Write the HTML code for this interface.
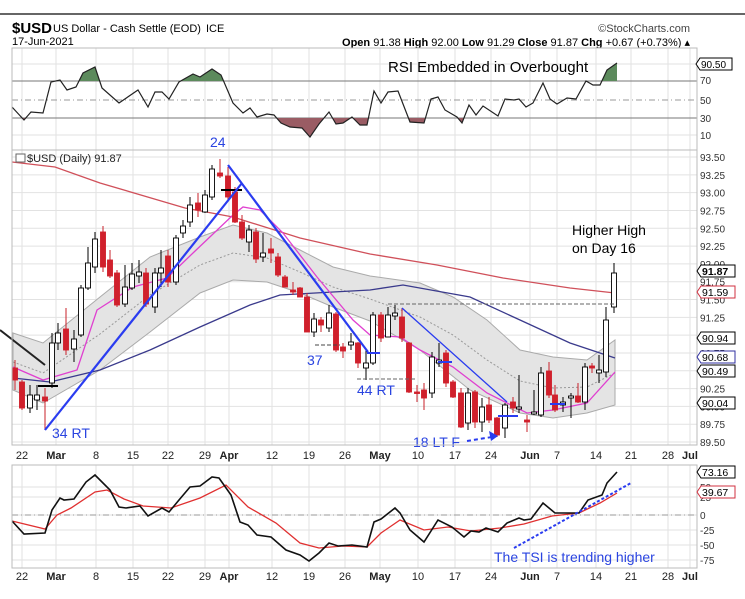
<!DOCTYPE html>
<html><head><meta charset="utf-8"><style>
body{margin:0;background:#fff;width:745px;height:599px;overflow:hidden;font-family:"Liberation Sans",sans-serif}
svg{display:block}
</style></head><body>
<svg id="s" width="745" height="599" xmlns="http://www.w3.org/2000/svg" font-family="Liberation Sans, sans-serif">
<rect width="745" height="599" fill="#fff"/>
<line x1="0" y1="14" x2="745" y2="14" stroke="#666" stroke-width="2"/>
<text x="12" y="33" font-size="15" font-weight="bold">$USD</text>
<text x="53" y="32" font-size="11">US Dollar - Cash Settle (EOD)</text>
<text x="206" y="32" font-size="11">ICE</text>
<text x="12" y="45" font-size="11">17-Jun-2021</text>
<text x="690" y="32" font-size="11" text-anchor="end" fill="#444">©StockCharts.com</text>
<text x="690" y="46" font-size="11" text-anchor="end"><tspan font-weight="bold">Open</tspan> 91.38 <tspan font-weight="bold">High</tspan> 92.00 <tspan font-weight="bold">Low</tspan> 91.29 <tspan font-weight="bold">Close</tspan> 91.87 <tspan font-weight="bold">Chg</tspan> +0.67 (+0.73%) ▴</text>
<g id="g"></g>
</svg>
<script>
const NS="http://www.w3.org/2000/svg",g=document.getElementById('g');
let h='';
const L=12,R=697;
const dx=[22,56,96,133,168,205,229,272,309,345,380,418,455,491,530,557,596,631,668,690];
const dl=['22','Mar','8','15','22','29','Apr','12','19','26','May','10','17','24','Jun','7','14','21','28','Jul'];
function vgrid(y1,y2){dx.forEach(x=>h+=`<line x1="${x}" y1="${y1}" x2="${x}" y2="${y2}" stroke="#e2e2e2"/>`);}
function pl(pts,st,w,extra=''){h+=`<polyline points="${pts.map(p=>p.join(',')).join(' ')}" fill="none" stroke="${st}" stroke-width="${w}" ${extra}/>`;}
// RSI panel
vgrid(48,150);
[[64,'90.50'],[81,'70'],[100,'50'],[118,'30'],[135,'10']].forEach(([y,t])=>{});
h+=`<line x1="${L}" y1="81" x2="${R}" y2="81" stroke="#777"/><line x1="${L}" y1="118" x2="${R}" y2="118" stroke="#777"/><line x1="${L}" y1="100" x2="${R}" y2="100" stroke="#999" stroke-dasharray="6,3,1,3"/><line x1="${L}" y1="135" x2="${R}" y2="135" stroke="#e2e2e2"/><line x1="${L}" y1="64" x2="${R}" y2="64" stroke="#e2e2e2"/>`;
const rsi=[[12,107],[24,120],[31,112],[43,113],[51,82],[60,80],[67,90],[76,87],[83,73],[95,67],[102,88],[119,103],[138,90],[148,107],[155,92],[162,92],[169,99],[179,82],[193,74],[200,77],[212,69],[221,75],[233,103],[243,113],[250,108],[257,117],[267,114],[274,115],[281,123],[290,127],[302,128],[310,137],[319,124],[329,112],[336,124],[343,123],[352,117],[360,125],[367,125],[374,91],[381,103],[388,92],[398,91],[410,122],[424,123],[431,99],[438,97],[445,110],[457,117],[462,123],[469,105],[476,115],[483,106],[498,116],[505,99],[514,100],[519,99],[526,107],[533,103],[543,83],[550,99],[557,104],[567,98],[576,99],[586,81],[593,85],[600,85],[607,70],[617,63]];
h+=`<defs><clipPath id="ca"><rect x="0" y="0" width="745" height="81"/></clipPath><clipPath id="cb"><rect x="0" y="118" width="745" height="40"/></clipPath></defs>`;
h+=`<polygon clip-path="url(#ca)" points="12,81 ${rsi.map(p=>p.join(',')).join(' ')} 617,81" fill="#5c8a5c"/>`;
h+=`<polygon clip-path="url(#cb)" points="12,118 ${rsi.map(p=>p.join(',')).join(' ')} 617,118" fill="#9a5c64"/>`;
pl(rsi,'#222',1.2);
h+=`<rect x="${L}" y="48" width="${R-L}" height="102" fill="none" stroke="#bbb"/>`;
h+=`<text x="388" y="72" font-size="15">RSI Embedded in Overbought</text>`;
[[84,'70'],[104,'50'],[122,'30'],[139,'10']].forEach(([y,t])=>h+=`<text x="700" y="${y}" font-size="10" fill="#333">${t}</text>`);
h+=`<path d="M696,64 l4,-6 h32 v12 h-32z" fill="#fff" stroke="#000"/><text x="701" y="68" font-size="10">90.50</text>`;
// main panel
vgrid(150,445);
const yp=p=>157+(93.5-p)*71.25;
for(let i=0;i<=16;i++){let p=93.5-i*0.25,y=yp(p);h+=`<line x1="${L}" y1="${y}" x2="${R}" y2="${y}" stroke="#e2e2e2"/><text x="700" y="${y+4}" font-size="10" fill="#333">${p.toFixed(2)}</text>`;}
const up=[[13,333],[43,343],[100,297],[150,257],[200,237],[233,225],[267,233],[300,250],[333,267],[370,276],[420,283],[453,297],[487,320],[520,350],[553,357],[587,360],[615,340]];
const lo=[[13,390],[43,403],[100,370],[150,332],[200,293],[233,280],[267,282],[300,293],[333,307],[370,321],[420,350],[470,390],[520,413],[553,418],[587,413],[615,405]];
h+=`<polygon points="${up.map(p=>p.join(',')).join(' ')} ${lo.slice().reverse().map(p=>p.join(',')).join(' ')}" fill="#e4e4e4" stroke="#aaa" stroke-width="1"/>`;
const mid=[[13,362],[43,373],[100,334],[150,295],[200,265],[233,253],[267,258],[300,272],[333,287],[370,299],[420,317],[453,335],[487,360],[520,381],[553,388],[587,387],[615,373]];
pl(mid,'#999',1,'stroke-dasharray="2,2"');
pl([[12,162],[55,167],[100,183],[185,208],[233,217],[300,238],[370,254],[437,265],[503,278],[570,288],[615,293]],'#d0505a',1.3);
pl([[13,378],[50,382],[100,370],[150,350],[200,327],[250,305],[280,295],[333,292],[370,290],[403,285],[470,297],[520,320],[570,343],[615,358]],'#3a3a8c',1.3);
pl([[13,367],[43,380],[77,370],[97,310],[133,287],[167,278],[193,253],[233,215],[243,207],[260,210],[283,233],[317,277],[353,320],[370,335],[400,337],[420,350],[453,367],[487,393],[527,413],[553,410],[587,403],[615,372]],'#e040d0',1.3);
const c=[[15,'r',368,380,360,390],[22,'r',382,408,380,410],[30,'w',395,408,385,413],[37,'w',395,400,385,410],[45,'r',397,401,388,430],[52,'w',343,383,333,388],[58,'w',333,343,323,350],[66,'r',329,350,308,355],[74,'w',339,349,330,362],[81,'w',288,335,285,337],[88,'w',263,288,247,290],[95,'w',239,267,232,273],[103,'r',232,267,226,272],[110,'r',260,276,250,278],[117,'r',273,305,270,307],[125,'w',287,304,265,307],[132,'w',274,288,263,290],[139,'w',272,276,260,283],[146,'r',273,304,268,307],[155,'w',273,307,268,313],[161,'w',268,273,250,287],[168,'r',256,282,250,287],[176,'w',238,282,235,285],[183,'w',226,233,220,238],[190,'w',205,222,197,227],[198,'r',203,210,193,217],[205,'w',195,212,190,213],[212,'w',169,197,165,200],[220,'r',173,176,159,178],[228,'r',176,197,167,200],[235,'r',192,222,187,223],[242,'r',222,238,215,240],[249,'w',230,242,225,252],[256,'r',232,259,228,263],[263,'w',253,257,233,262],[271,'r',249,253,238,263],[278,'r',257,275,253,277],[285,'r',277,287,275,287],[293,'r',290,292,282,295],[300,'r',288,297,287,297],[307,'r',297,332,293,332],[314,'w',319,332,313,337],[321,'r',320,325,317,332],[329,'w',313,328,305,332],[336,'r',314,350,312,352],[343,'r',347,351,343,358],[351,'w',342,345,333,350],[358,'r',343,363,342,368],[366,'w',363,368,350,380],[373,'w',315,363,312,365],[381,'r',315,338,312,342],[388,'w',315,337,307,337],[395,'w',313,316,305,320],[402,'r',317,338,308,342],[409,'r',343,392,342,393],[417,'r',392,393,385,402],[424,'r',390,398,383,410],[432,'w',357,393,352,398],[439,'w',360,363,343,367],[446,'r',353,383,350,387],[453,'r',382,397,380,398],[461,'r',393,427,388,428],[468,'w',393,423,388,430],[475,'r',392,422,390,428],[482,'w',407,422,398,432],[489,'r',405,420,397,423],[497,'r',418,435,417,437],[505,'w',405,428,403,438],[513,'r',402,408,397,413],[519,'w',407,409,375,413],[527,'r',420,422,415,432],[534,'w',412,414,390,415],[541,'w',373,415,367,417],[549,'r',371,395,362,398],[555,'r',395,410,385,412],[563,'w',402,405,397,412],[571,'w',396,398,393,418],[578,'r',396,402,383,403],[585,'w',367,402,363,410],[592,'r',366,368,363,373],[599,'w',370,373,355,383],[606,'w',320,372,307,377],[614,'w',273,307,263,313]];
c.forEach(([x,t,a,b,hi,lw])=>{const col=t=='r'?'#c8202a':'#000';h+=`<line x1="${x}" y1="${hi}" x2="${x}" y2="${lw}" stroke="${t=='r'?'#c8202a':'#000'}"/>`;h+=`<rect x="${x-2.5}" y="${a}" width="5" height="${Math.max(b-a,1.5)}" fill="${t=='r'?'#d0202c':'#fff'}" stroke="${t=='r'?'#d0202c':'#000'}" stroke-width="0.9"/>`;});
h+=`<line x1="388" y1="304" x2="614" y2="304" stroke="#666" stroke-dasharray="4,2"/><line x1="357" y1="379" x2="415" y2="379" stroke="#666" stroke-dasharray="4,2"/><line x1="315" y1="345" x2="340" y2="345" stroke="#444" stroke-dasharray="4,2"/>`;
h+=`<line x1="38" y1="386" x2="58" y2="386" stroke="#000" stroke-width="2"/><line x1="221" y1="190" x2="242" y2="190" stroke="#000" stroke-width="2"/>`;
h+=`<line x1="0" y1="330" x2="45" y2="365" stroke="#222" stroke-width="2"/>`;
h+=`<line x1="45" y1="430" x2="242" y2="183" stroke="#2a3cf0" stroke-width="2.2"/><line x1="228" y1="165" x2="368" y2="352" stroke="#2a3cf0" stroke-width="2.2"/><line x1="402" y1="308" x2="507" y2="402" stroke="#2a3cf0" stroke-width="1.3"/>`;
[[366,353,380],[368,352,382],[440,362,444],[512,405,520],[545,404,560],[498,417,515],[500,417,520]].forEach(([a,y,b])=>{});
h+=`<line x1="367" y1="353" x2="380" y2="353" stroke="#2a3cf0" stroke-width="2"/><line x1="438" y1="362" x2="452" y2="362" stroke="#2a3cf0" stroke-width="2"/><line x1="498" y1="416" x2="518" y2="416" stroke="#2a3cf0" stroke-width="2"/><line x1="550" y1="404" x2="565" y2="404" stroke="#2a3cf0" stroke-width="2"/>`;
h+=`<line x1="467" y1="441" x2="492" y2="437" stroke="#2a3cf0" stroke-width="2" stroke-dasharray="4,3"/><path d="M498,436 l-9,-5 l2,10z" fill="#2a3cf0"/>`;
const bt=(x,y,t,s=14)=>h+=`<text x="${x}" y="${y}" font-size="${s}" fill="#2a44e0">${t}</text>`;
bt(210,147,'24');bt(52,438,'34 RT');bt(307,365,'37');bt(357,395,'44 RT');bt(413,447,'18 LT F');
h+=`<text x="572" y="235" font-size="14">Higher High</text><text x="572" y="253" font-size="14">on Day 16</text>`;
h+=`<rect x="${L}" y="150" width="${R-L}" height="295" fill="none" stroke="#bbb"/>`;
h+=`<rect x="16" y="154" width="9" height="8" fill="#fff" stroke="#666"/><text x="27" y="162" font-size="11" fill="#222">$USD (Daily) 91.87</text>`;
const tag=(y,t,col,bold)=>h+=`<path d="M697,${y} l4,-6 h34 v12 h-34z" fill="#fff" stroke="${col}"/><text x="702" y="${y+4}" font-size="10.5" ${bold?'font-weight="bold"':''}>${t}</text>`;
tag(271,'91.87','#000',1);tag(292,'91.59','#d03040');tag(338,'90.94','#000');tag(357,'90.68','#3030a0');tag(371,'90.49','#000');tag(403,'90.04','#000');
// date labels
const dates=y=>dx.forEach((x,i)=>{const b=isNaN(dl[i]);h+=`<text x="${x}" y="${y}" font-size="11" text-anchor="middle" ${b?'font-weight="bold"':''} fill="#222">${dl[i]}</text>`;});
dates(459);
// TSI panel
vgrid(465,568);
[[472,''],[487,'50'],[497,'25'],[515,'0'],[530,'-25'],[545,'-50'],[560,'-75']].forEach(([y,t])=>{if(t){h+=`<line x1="${L}" y1="${y}" x2="${R}" y2="${y}" stroke="#e2e2e2"/><text x="700" y="${y+4}" font-size="10" fill="#333">${t}</text>`;}});
h+=`<line x1="${L}" y1="515" x2="${R}" y2="515" stroke="#999" stroke-dasharray="6,3,1,3"/>`;
pl([[12,521],[45,529],[57,515],[71,508],[95,492],[107,490],[124,499],[143,506],[171,508],[200,498],[226,485],[248,507],[276,523],[300,543],[319,548],[343,546],[367,547],[381,533],[400,520],[424,530],[448,527],[471,531],[500,528],[524,524],[552,516],[579,513],[600,503],[617,493]],'#e03030',1.3);
pl([[12,521],[24,534],[45,533],[52,510],[60,498],[64,500],[74,499],[86,482],[95,475],[110,490],[119,507],[126,508],[140,506],[148,516],[162,508],[169,512],[179,500],[190,487],[200,486],[212,477],[219,478],[231,495],[240,522],[248,525],[257,535],[271,537],[286,550],[300,555],[309,561],[319,553],[329,543],[338,546],[352,545],[367,547],[374,522],[381,519],[395,508],[400,513],[410,530],[424,542],[438,520],[452,527],[464,537],[471,531],[479,532],[486,528],[498,532],[507,523],[519,518],[524,520],[531,519],[543,503],[555,513],[569,513],[579,513],[588,500],[602,495],[607,483],[617,472]],'#111',1.6);
h+=`<line x1="514" y1="548" x2="631" y2="483" stroke="#2a3cf0" stroke-width="2" stroke-dasharray="3,2"/>`;
h+=`<text x="494" y="562" font-size="14" fill="#2a44e0">The TSI is trending higher</text>`;
h+=`<rect x="${L}" y="465" width="${R-L}" height="103" fill="none" stroke="#bbb"/>`;
tag(472,'73.16','#000');tag(492,'39.67','#d03040');
dates(580);
g.innerHTML=h;
</script>
</body></html>
